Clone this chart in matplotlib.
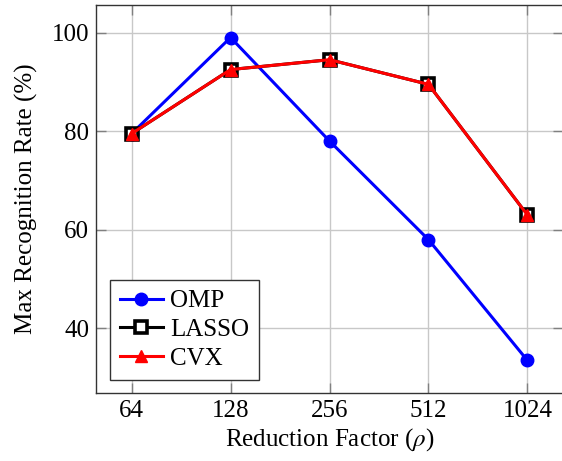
import matplotlib
matplotlib.use("Agg")
import matplotlib.pyplot as plt
import numpy as np

plt.rcParams['font.family'] = ['Liberation Serif', 'DejaVu Serif']
plt.rcParams['mathtext.fontset'] = 'stix'

factors = ['64', '128', '256', '512', '1024']
omp = [79.5, 99.0, 78.0, 58.0, 33.5]
lasso = [79.5, 92.5, 94.5, 89.5, 63.0]
cvx = [79.5, 92.5, 94.5, 89.5, 63.0]

x = np.arange(len(factors))

fig = plt.figure(figsize=(5.62, 4.61), dpi=100)
ax = fig.add_axes([0.1708, 0.1482, 0.831, 0.841])

ax.plot(x, omp, color='blue', lw=2.2, marker='o', ms=9, label='OMP')
ax.plot(x, lasso, color='black', lw=2.2, marker='s', ms=8,
        mfc='white', mec='black', mew=2.6, label='LASSO')
ax.plot(x, cvx, color='red', lw=2.2, marker='^', ms=9, label='CVX')

ax.set_xlim(-0.36, 4.36)
ax.set_ylim(26.95, 105.6)
ax.set_xticks(x)
ax.set_xticklabels(factors)
ax.set_yticks([40, 60, 80, 100])

ax.grid(True, color='#c8c8c8', lw=1)
ax.set_axisbelow(True)
ax.tick_params(direction='in', length=7, width=1, color='0.5',
               labelsize=18, top=True, right=True, pad=5)
for s in ax.spines.values():
    s.set_linewidth(1)
    s.set_color('0.2')

ax.set_xlabel(r'Reduction Factor ($\rho$)', fontsize=18, labelpad=3)
ax.set_ylabel('Max Recognition Rate (%)', fontsize=18, labelpad=10)

leg = ax.legend(loc='lower left', bbox_to_anchor=(0.030, 0.033), borderaxespad=0,
                fontsize=18, fancybox=False, framealpha=1, edgecolor='0.2',
                handlelength=1.7, handletextpad=0.3, labelspacing=0.25,
                borderpad=0.4)
leg.get_frame().set_linewidth(1)

fig.savefig('out.png', dpi=100)
